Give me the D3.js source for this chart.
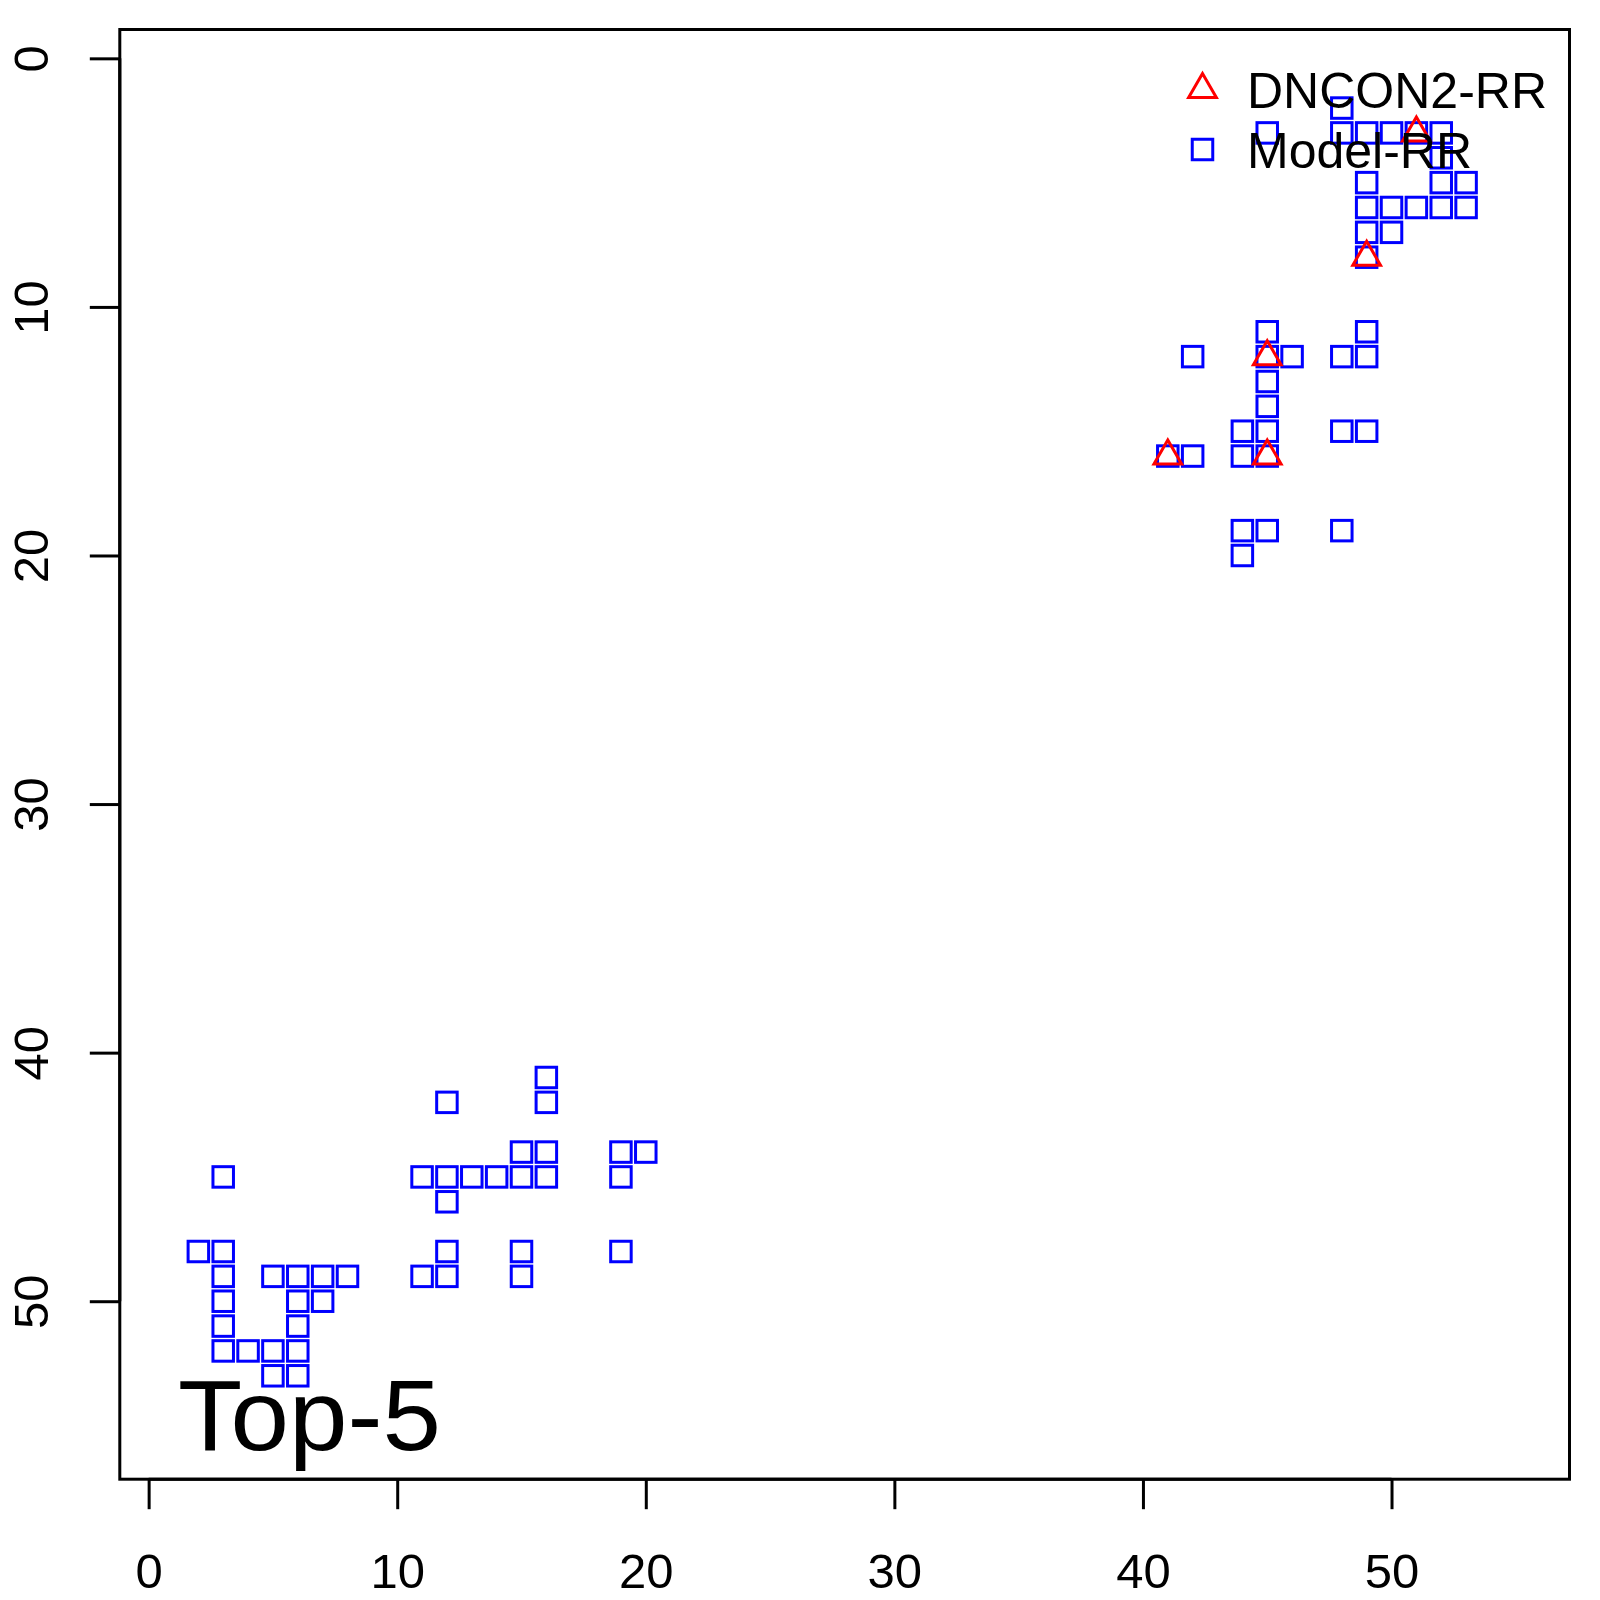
<!DOCTYPE html>
<html>
<head>
<meta charset="utf-8">
<script src="https://cdn.jsdelivr.net/npm/d3@7"></script>
<style>
  html, body { margin: 0; padding: 0; background: #fff; }
  svg { display: block; font-family: "Liberation Sans", Arial, Helvetica, sans-serif; }
</style>
</head>
<body>
<script>
// ---- Data ----
// Model-RR contacts (x = column index, y = row index)
const modelRR_x = [
  48,
  45,48,49,50,51,52,
  52,
  49,52,53,
  49,50,51,52,53,
  49,50,
  49,
  45,49,
  42,45,46,48,49,
  45,45,
  44,45,48,49,
  41,42,44,45,
  44,45,48,
  44,
  16,
  12,16,
  15,16,19,20,
  3,11,12,13,14,15,16,19,
  12,
  2,3,12,15,19,
  3,5,6,7,8,11,12,15,
  3,6,7,
  3,6,
  3,4,5,6,
  5,6
];
const modelRR_y = [
  2,
  3,3,3,3,3,3,
  4,
  5,5,5,
  6,6,6,6,6,
  7,7,
  8,
  11,11,
  12,12,12,12,12,
  13,14,
  15,15,15,15,
  16,16,16,16,
  19,19,19,
  20,
  41,
  42,42,
  44,44,44,44,
  45,45,45,45,45,45,45,45,
  46,
  48,48,48,48,48,
  49,49,49,49,49,49,49,49,
  50,50,50,
  51,51,
  52,52,52,52,
  53,53
];
// DNCON2-RR contacts
const dncon2RR_x = [51, 49, 45, 41, 45];
const dncon2RR_y = [3, 8, 12, 16, 16];

const xTickValues = [0, 10, 20, 30, 40, 50];
const yTickValues = [0, 10, 20, 30, 40, 50];
const legendLabels = ["DNCON2-RR", "Model-RR"];
const panelLabel = "Top-5";
const axisDomain = [-1.16, 57.16];

// ---- Layout ----
const W = 1600, H = 1600;
const plotLeft = 119.8, plotRight = 1569.5, plotTop = 29.5, plotBottom = 1479.2;
const squareColor = "#0000FF", triColor = "#FF0000";
const lw = 3;

const svg = d3.select("body").append("svg")
  .attr("width", W).attr("height", H)
  .attr("viewBox", `0 0 ${W} ${H}`);

svg.append("rect").attr("width", W).attr("height", H).attr("fill", "#fff");

const x = d3.scaleLinear().domain(axisDomain).range([plotLeft, plotRight]);
const y = d3.scaleLinear().domain(axisDomain).range([plotTop, plotBottom]);

// Symbol helpers (R-style pch 0 and pch 2)
const sqSide = 20.5;
const triR = 16;
function trianglePath(cx, cy, r) {
  const xc = r * Math.sqrt(3) / 2, yc = r / 2;
  return `M${cx},${cy - r}L${cx + xc},${cy + yc}L${cx - xc},${cy + yc}Z`;
}

// ---- Axes ----
const xAxis = d3.axisBottom(x).tickValues(xTickValues).tickSize(30).tickPadding(0).tickFormat(d3.format("d"));
const gx = svg.append("g").attr("transform", `translate(0,${plotBottom})`).call(xAxis);
gx.select(".domain").remove();
gx.selectAll(".tick line").attr("stroke", "#000").attr("stroke-width", lw);
gx.selectAll(".tick text").remove();
gx.append("line")
  .attr("x1", x(xTickValues[0])).attr("x2", x(xTickValues[xTickValues.length - 1]))
  .attr("y1", 0).attr("y2", 0).attr("stroke", "#000").attr("stroke-width", lw);
gx.selectAll(".tick").append("text")
  .attr("x", 0).attr("y", 1588 - plotBottom)
  .attr("text-anchor", "middle")
  .attr("fill", "#000")
  .attr("font-size", 49)
  .text(d => d);

const yAxis = d3.axisLeft(y).tickValues(yTickValues).tickSize(30).tickFormat(d3.format("d"));
const gy = svg.append("g").attr("transform", `translate(${plotLeft},0)`).call(yAxis);
gy.select(".domain").remove();
gy.selectAll(".tick line").attr("stroke", "#000").attr("stroke-width", lw);
gy.selectAll(".tick text").remove();
gy.append("line")
  .attr("y1", y(yTickValues[0])).attr("y2", y(yTickValues[yTickValues.length - 1]))
  .attr("x1", 0).attr("x2", 0).attr("stroke", "#000").attr("stroke-width", lw);
gy.selectAll(".tick").append("text")
  .attr("transform", `translate(${48.3 - plotLeft},0) rotate(-90)`)
  .attr("text-anchor", "middle")
  .attr("fill", "#000")
  .attr("font-size", 49)
  .text(d => d);

// Plot box
svg.append("rect")
  .attr("x", plotLeft).attr("y", plotTop)
  .attr("width", plotRight - plotLeft).attr("height", plotBottom - plotTop)
  .attr("fill", "none").attr("stroke", "#000").attr("stroke-width", lw);

// ---- Points ----
const modelData = modelRR_x.map((v, i) => ({ x: v, y: modelRR_y[i] }));
const dnconData = dncon2RR_x.map((v, i) => ({ x: v, y: dncon2RR_y[i] }));

svg.append("g").selectAll("rect").data(modelData).join("rect")
  .attr("x", d => x(d.x) - sqSide / 2)
  .attr("y", d => y(d.y) - sqSide / 2)
  .attr("width", sqSide).attr("height", sqSide)
  .attr("fill", "none").attr("stroke", squareColor).attr("stroke-width", lw);

svg.append("g").selectAll("path").data(dnconData).join("path")
  .attr("d", d => trianglePath(x(d.x), y(d.y), triR))
  .attr("fill", "none").attr("stroke", triColor).attr("stroke-width", lw)
  .attr("stroke-linejoin", "miter");

// ---- Panel label ----
svg.append("text")
  .attr("x", 178).attr("y", 1450)
  .attr("font-size", 101).attr("fill", "#000")
  .attr("textLength", 263).attr("lengthAdjust", "spacingAndGlyphs")
  .text(panelLabel);

// ---- Legend ----
const legend = svg.append("g");
const legX = 1202.5, legY0 = 89.5, legStep = 60;
legend.append("path")
  .attr("d", trianglePath(legX, legY0, triR))
  .attr("fill", "none").attr("stroke", triColor).attr("stroke-width", lw);
legend.append("rect")
  .attr("x", legX - sqSide / 2).attr("y", legY0 + legStep - sqSide / 2)
  .attr("width", sqSide).attr("height", sqSide)
  .attr("fill", "none").attr("stroke", squareColor).attr("stroke-width", lw);
legend.selectAll("text").data(legendLabels).join("text")
  .attr("x", 1247)
  .attr("y", (d, i) => 108.3 + i * legStep)
  .attr("font-size", 50).attr("fill", "#000")
  .text(d => d);
</script>
</body>
</html>
